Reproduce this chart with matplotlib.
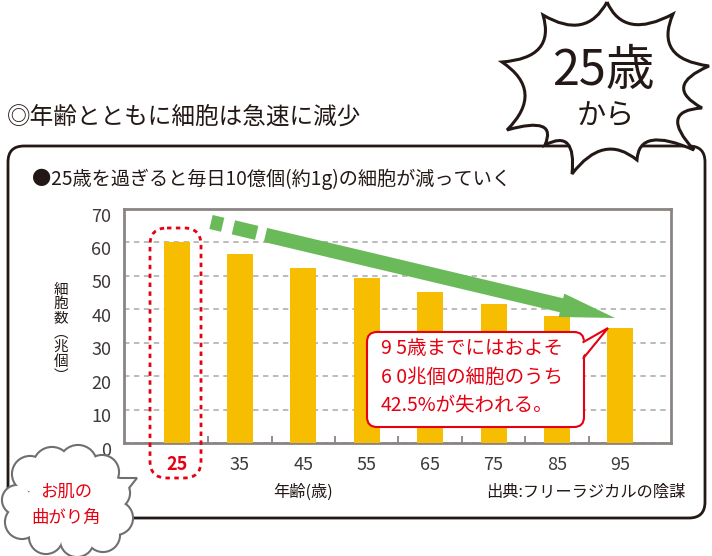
import numpy as np
import matplotlib
matplotlib.use('Agg')
import matplotlib.pyplot as plt
import matplotlib.transforms as mtransforms
from matplotlib.patches import FancyBboxPatch, PathPatch, Polygon, Circle
from matplotlib.path import Path

plt.rcParams['font.family'] = ['Noto Sans CJK JP', 'DejaVu Sans']

# data
ages = ['25', '35', '45', '55', '65', '75', '85', '95']
cells = [60.0, 56.5, 52.3, 49.4, 45.2, 41.6, 38.0, 34.4]
yticks = [0, 10, 20, 30, 40, 50, 60, 70]

title = '◎年齢とともに細胞は急速に減少'
subtitle = '●25歳を過ぎると毎日10億個(約1g)の細胞が減っていく'
xlabel = '年齢(歳)'
ylabel_chars = ['細', '胞', '数', '︵', '兆', '個', '︶']
source = '出典:フリーラジカルの陰謀'
note_lines = ['9 5歳までにはおよそ', '6 0兆個の細胞のうち', '42.5%が失われる。']
bubble_lines = ['お肌の', '曲がり角']

RED = '#e50012'
DARK = '#231815'
GRAY = '#8a8583'
BAR = '#f7bd00'
GREEN = '#6aba5a'

W, H = 712, 556
fig = plt.figure(figsize=(W / 100, H / 100), dpi=100)
fig.patch.set_facecolor('white')

# chart axes (pixel box: x 124-671, y 209-443)
ax = fig.add_axes([124 / W, 1 - 443 / H, (671 - 124) / W, (443 - 209) / H])
x = np.arange(len(ages))
ax.bar(x, cells, width=0.41, color=BAR, zorder=3)
ax.set_xlim(-0.83, 7.8)
ax.set_ylim(0, 70)
ax.set_yticks(yticks)
ax.yaxis.grid(True, linestyle=(0, (3, 2.5)), color='#b5b5b5', lw=1.3)
ax.set_axisbelow(True)
for s in ax.spines.values():
    s.set_color(GRAY)
    s.set_linewidth(2)
ax.set_xticks(x)
ax.set_xticklabels(ages)
ax.set_xticks(x[:-1] + 0.5, minor=True)
ax.tick_params(axis='x', which='major', length=0, pad=9, labelsize=13, labelcolor='#3e3a39')
ax.tick_params(axis='x', which='minor', length=5, width=1.3, direction='in', color=GRAY)
ax.tick_params(axis='y', length=0, pad=9, labelsize=13, labelcolor='#3e3a39')
lab0 = ax.get_xticklabels()[0]
lab0.set_color(RED)
lab0.set_fontweight('bold')
shift = mtransforms.ScaledTranslation(0, -4 / 72, fig.dpi_scale_trans)
for lab in ax.get_yticklabels():
    lab.set_transform(lab.get_transform() + shift)

# overlay in pixel coordinates for decorations
ov = fig.add_axes([0, 0, 1, 1])
ov.set_xlim(0, W)
ov.set_ylim(H, 0)
ov.axis('off')
ov.set_zorder(5)

# outer frame
ov.add_patch(FancyBboxPatch((8, 146), 697, 372, boxstyle='round,pad=0,rounding_size=16',
                            fill=False, ec=DARK, lw=2, zorder=1))

# titles
ov.text(7, 118, title, fontsize=17, color=DARK, va='center', ha='left')
ov.text(32, 179, subtitle, fontsize=13.8, color=DARK, va='center', ha='left')
ov.text(303, 492, xlabel, fontsize=11.7, color=DARK, va='center', ha='center')
ov.text(686, 492, source, fontsize=11.7, color=DARK, va='center', ha='right')
for i, ch in enumerate(ylabel_chars):
    ov.text(61, 290 + i * 14.3, ch, fontsize=10.5, color=DARK, va='center', ha='center')

# dotted box around the 25 bar
ov.add_patch(FancyBboxPatch((150, 228), 51, 250, boxstyle='round,pad=0,rounding_size=17',
                            fill=False, ec=RED, lw=2, linestyle=(0, (1.6, 1.6)), zorder=2))

# green arrow
S = np.array([211.0, 222.0])
E = np.array([615.0, 318.0])
L = np.hypot(*(E - S))
u = (E - S) / L
n = np.array([-u[1], u[0]])
hw = 7.2
def seg(a, b):
    p0, p1 = S + u * a, S + u * b
    return [p0 + n * hw, p1 + n * hw, p1 - n * hw, p0 - n * hw]
for a, b in [(0, 12), (23, 47)]:
    ov.add_patch(Polygon(seg(a, b), closed=True, fc=GREEN, ec='none', zorder=2))
hb = L - 55
pts = [S + u * 56 + n * hw, S + u * hb + n * hw, S + u * hb + n * 12, E,
       S + u * hb - n * 12, S + u * hb - n * hw, S + u * 56 - n * hw]
ov.add_patch(Polygon(pts, closed=True, fc=GREEN, ec='none', zorder=2))

# callout box
ov.add_patch(FancyBboxPatch((367, 332), 217, 95, boxstyle='round,pad=0,rounding_size=10',
                            fc='white', ec=RED, lw=1.5, zorder=3))
tail = [(581, 342), (608, 328), (581, 358)]
ov.add_patch(Polygon(tail, closed=True, fc='white', ec='none', zorder=4))
ov.plot([583.5, 608, 583.5], [342, 328, 358], color=RED, lw=1.5, zorder=4,
        solid_joinstyle='miter')
for i, line in enumerate(note_lines):
    ov.text(381, 348 + i * 29, line, fontsize=14, color=RED, va='center', ha='left', zorder=5)

# burst
tips = [(607, 2), (673, 14), (709, 66), (702, 108), (694, 150), (637, 160),
        (572, 174), (545, 145), (507, 130), (502, 62), (543, 15)]
C = np.array([602.0, 85.0])
verts, codes = [tips[0]], [Path.MOVETO]
for i in range(len(tips)):
    p0 = np.array(tips[i])
    p1 = np.array(tips[(i + 1) % len(tips)])
    mid = (p0 + p1) / 2
    ctrl = mid + (C - mid) * 0.42
    verts += [tuple(ctrl), tuple(p1)]
    codes += [Path.CURVE3, Path.CURVE3]
ov.add_patch(PathPatch(Path(verts, codes), fc='white', ec=DARK, lw=2.2, zorder=6))
ov.text(603, 71, '25歳', fontsize=35, color=DARK, va='center', ha='center', zorder=7)
ov.text(606, 115, 'から', fontsize=21, color=DARK, va='center', ha='center', zorder=7)

# cloud bubble
circles = [(30, 474, 17), (52, 466, 18), (78, 464, 18), (102, 472, 16), (114, 493, 15),
           (116, 518, 16), (103, 535, 16), (77, 540, 16), (46, 537, 16), (22, 522, 16),
           (17, 500, 14), (68, 502, 40)]
ctail = [(108, 478), (137, 478), (118, 502)]
for cx, cy, r in circles:
    ov.add_patch(Circle((cx, cy), r, fc='white', ec='#6f6f6f', lw=3, zorder=8))
ov.add_patch(Polygon(ctail, closed=True, fc='white', ec='#6f6f6f', lw=1.5, zorder=8.5))
for cx, cy, r in circles:
    ov.add_patch(Circle((cx, cy), r, fc='white', ec='none', zorder=9))
for i, line in enumerate(bubble_lines):
    ov.text(66, 492 + i * 26, line, fontsize=12.5, color=RED, va='center', ha='center', zorder=10)

fig.savefig('out.png', dpi=100)
